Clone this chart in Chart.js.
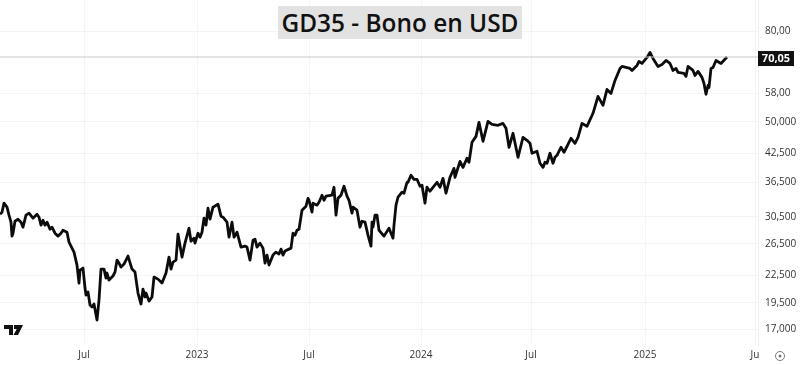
<!DOCTYPE html>
<html lang="es">
<head>
<meta charset="UTF-8">
<title>GD35 - Bono en USD</title>
<script src="https://cdn.jsdelivr.net/npm/chart.js"></script>
<style>
    html, body { margin: 0; padding: 0; background: #fff; }
    #wrap { position: relative; width: 800px; height: 365px; overflow: hidden; }
    #titulo {
        position: absolute; left: 278px; top: 6px; width: 244px; height: 33px;
        background: #e2e2e2; color: #111; text-align: center;
        font: 600 24.4px/33px "Open Sans", sans-serif; white-space: nowrap;
    }
    #logo { position: absolute; left: 4px; top: 325px; }
    #ajuste { position: absolute; left: 774px; top: 350px; }
</style>
</head>
<body>
<div id="wrap">
    <canvas id="grafico" width="800" height="365"></canvas>
    <div id="titulo">GD35 - Bono en USD</div>
    <svg id="logo" width="20" height="11" viewBox="0 0 20 11">
        <path d="M0 0h9v10H5V4H0z M10 0h9l-5 10H9.5l3.2-6H10z M7 0z" fill="#111"/>
    </svg>
    <svg id="ajuste" width="12" height="12" viewBox="0 0 12 12">
        <circle cx="6" cy="6" r="4.5" fill="none" stroke="#777" stroke-width="1"/>
        <circle cx="6" cy="6" r="1.5" fill="#777"/>
    </svg>
</div>

<script>
    // numero de rueda aproximado (eje x) y precio
    const ruedas = [0,2,4,7,9,11,12,13,15,18,21,23,26,29,33,37,39,41,43,45,47,50,52,55,58,61,63,67,69,72,74,77,79,80,83,85,86,88,90,92,94,97,99,101,104,106,107,109,113,115,117,119,121,124,128,132,135,138,141,143,145,146,149,152,154,158,162,166,169,171,173,176,178,182,185,189,191,194,195,198,200,202,204,206,208,210,213,218,221,223,227,229,232,234,237,241,245,247,250,253,255,257,260,263,265,267,269,273,276,279,281,283,285,291,293,295,297,299,302,306,308,309,312,313,317,319,322,324,326,332,334,336,338,341,344,347,349,352,353,357,360,362,365,368,371,372,373,375,377,379,384,389,393,394,396,398,402,404,407,408,411,414,417,420,422,425,427,430,437,440,443,446,450,454,455,460,463,467,469,472,476,479,483,488,492,498,503,506,509,513,518,523,527,530,532,537,540,543,545,547,550,553,555,557,561,564,571,575,578,582,587,593,598,603,607,611,615,620,622,630,632,637,639,642,647,650,653,658,662,666,670,673,676,678,684,686,688,693,695,698,702,704,706,708,709,711,713,716,721,727];
    const precios = [30.92,31.24,32.74,32.06,30.76,29.66,27.58,28.0,29.8,30.12,29.66,28.9,30.76,31.08,30.28,30.92,30.44,29.2,29.96,29.2,29.66,28.6,28.9,28.0,27.58,28.0,28.44,28.15,26.73,25.91,25.38,23.72,21.6,23.11,23.36,21.05,20.3,20.62,19.27,19.07,19.37,17.82,19.77,23.23,23.23,22.17,22.76,21.94,22.41,22.87,24.34,23.97,23.48,23.85,24.86,23.23,22.87,20.51,19.37,20.94,20.09,20.51,19.67,20.09,22.29,22.05,21.6,22.76,24.73,23.23,24.09,24.34,27.86,24.73,26.59,28.74,26.86,27.29,26.59,28.0,27.43,28.15,30.28,29.2,31.9,30.12,32.06,32.57,30.6,30.44,29.66,27.43,29.66,27.43,28.15,26.05,26.18,26.05,24.34,27.0,27.14,26.05,26.59,25.91,23.97,24.99,23.72,24.99,25.38,25.12,25.77,24.99,25.51,25.91,28.0,27.72,28.44,28.59,31.56,32.23,33.58,33.24,31.24,32.74,32.4,32.9,34.13,33.24,33.95,34.13,35.57,30.76,33.58,34.13,35.75,33.95,33.24,31.08,32.06,31.56,28.9,29.8,29.66,27.72,26.18,29.66,28.9,30.76,30.76,28.44,27.58,28.74,27.29,29.2,32.4,33.77,34.66,34.48,36.5,36.5,37.85,37.07,37.07,35.75,35.95,32.74,35.57,34.84,36.5,35.57,37.26,34.48,37.46,39.24,37.46,40.7,39.44,41.35,40.5,44.95,46.35,49.86,45.17,50.12,49.35,49.1,49.6,48.33,43.8,47.1,41.57,46.1,45.4,44.7,42.45,42.9,40.3,39.44,40.5,40.3,42.45,40.3,41.57,42.0,43.8,42.67,45.88,44.7,46.1,49.6,48.84,52.27,57.07,54.47,59.18,57.96,62.01,66.0,66.7,66.0,65.32,67.05,68.45,67.75,69.9,71.73,69.55,66.7,67.4,68.81,67.75,65.32,66.0,64.65,64.3,63.35,66.7,65.32,63.65,65.0,63.0,61.05,57.7,60.4,59.8,66.0,66.35,68.81,67.75,70.05];

    const ultimoPrecio = 70.05;
    const ultimoTexto = "70,05";

    const ticksY = [80, 58, 50, 42.5, 36.5, 30.5, 26.5, 22.5, 19.5, 17];
    const etiquetasY = ["80,00", "58,00", "50,000", "42,500", "36,500", "30,500", "26,500", "22,500", "19,500", "17,000"];
    const ticksX = [84, 197, 309, 421, 531, 645, 755];
    const etiquetasX = ["Jul", "2023", "Jul", "2024", "Jul", "2025", "Ju"];

    const fuente = '"Open Sans", sans-serif';

    // recuadro negro con el ultimo precio sobre el eje derecho
    const etiquetaPrecio = {
        id: "etiquetaPrecio",
        afterDraw(chart) {
            const ctx = chart.ctx;
            const y = chart.scales.y.getPixelForValue(ultimoPrecio);
            ctx.save();
            ctx.fillStyle = "#111";
            ctx.fillRect(758, y - 6, 36, 15);
            ctx.fillStyle = "#fff";
            ctx.font = "700 11px " + fuente;
            ctx.textAlign = "center";
            ctx.textBaseline = "middle";
            ctx.fillText(ultimoTexto, 776, y + 1.5);
            ctx.restore();
        }
    };

    new Chart(document.getElementById("grafico"), {
        type: "line",
        data: {
            datasets: [
                {
                    data: [{ x: 0, y: ultimoPrecio }, { x: 758, y: ultimoPrecio }],
                    borderColor: "#c8c8c8",
                    borderWidth: 1,
                    pointRadius: 0
                },
                {
                    data: ruedas.map((r, i) => ({ x: r, y: precios[i] })),
                    borderColor: "#0c0c0c",
                    borderWidth: 2.8,
                    pointRadius: 0,
                    tension: 0,
                    borderJoinStyle: "round"
                }
            ]
        },
        options: {
            responsive: false,
            animation: false,
            layout: { padding: 0 },
            plugins: { legend: { display: false }, tooltip: { enabled: false } },
            scales: {
                x: {
                    type: "linear",
                    min: 0,
                    max: 758,
                    afterBuildTicks(axis) { axis.ticks = ticksX.map(v => ({ value: v })); },
                    afterFit(axis) {
                        axis.height = 20;
                        axis.paddingLeft = 0;
                        axis.paddingRight = 0;
                    },
                    grid: { color: "#f4f4f4", drawTicks: false },
                    border: { display: false },
                    ticks: {
                        autoSkip: false,
                        maxRotation: 0,
                        padding: 4,
                        color: "#333",
                        font: { family: fuente, size: 10 },
                        callback: v => etiquetasX[ticksX.indexOf(v)]
                    }
                },
                y: {
                    type: "logarithmic",
                    position: "right",
                    bounds: "data",
                    min: 15.65,
                    max: 94.25,
                    afterBuildTicks(axis) { axis.ticks = ticksY.map(v => ({ value: v })); },
                    afterFit(axis) {
                        axis.width = 42;
                        // sin esto el area del grafico no llega arriba
                        axis.paddingTop = 0;
                        axis.paddingBottom = 0;
                    },
                    grid: { color: "#f4f4f4", drawTicks: false },
                    border: { color: "#f0f0f0" },
                    ticks: {
                        autoSkip: false,
                        padding: 7,
                        color: "#333",
                        font: { family: fuente, size: 10 },
                        callback: v => etiquetasY[ticksY.indexOf(v)]
                    }
                }
            }
        },
        plugins: [etiquetaPrecio]
    });
</script>
</body>
</html>
